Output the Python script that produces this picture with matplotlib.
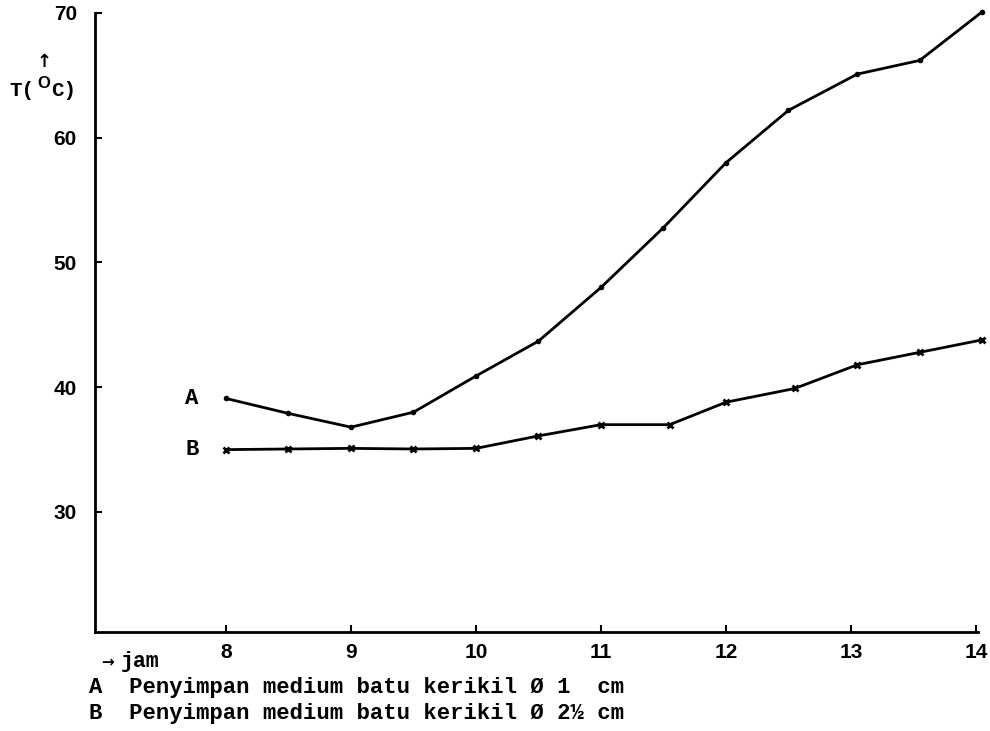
import matplotlib
matplotlib.use("Agg")
import matplotlib.pyplot as plt

# Data
hours_a = [8, 8.5, 9, 9.5, 10, 10.5, 11, 11.5, 12, 12.5, 13.05, 13.55, 14.05]
temp_a = [39.1, 37.9, 36.8, 38.0, 40.9, 43.7, 48.0, 52.8, 58.0, 62.2, 65.1, 66.2, 70.1]
hours_b = [8, 8.5, 9, 9.5, 10, 10.5, 11, 11.55, 12, 12.55, 13.05, 13.55, 14.05]
temp_b = [35.0, 35.05, 35.1, 35.05, 35.1, 36.1, 37.0, 37.0, 38.8, 39.9, 41.8, 42.8, 43.8]
x_ticks = [8, 9, 10, 11, 12, 13, 14]
y_ticks = [30, 40, 50, 60, 70]
series_labels = ["A", "B"]
legend_lines = [
    "A  Penyimpan medium batu kerikil \u00d8 1  cm",
    "B  Penyimpan medium batu kerikil \u00d8 2\u00bd cm",
]

W, H = 990, 731
fig = plt.figure(figsize=(W / 100, H / 100), dpi=100)
ax = fig.add_axes([95 / W, 1 - 632 / H, (978 - 95) / W, (632 - 13) / H])

mono = ["Liberation Mono", "DejaVu Sans Mono"]
sans = ["Liberation Sans", "DejaVu Sans"]

ax.plot(hours_a, temp_a, color="black", lw=2, marker="o", ms=3, clip_on=False)
ax.plot(hours_b, temp_b, color="black", lw=2, marker="x", ms=5, mew=2, clip_on=False)

ax.set_xlim(6.952, 14.016)
ax.set_ylim(20.38, 70.0)
for s in ["top", "right"]:
    ax.spines[s].set_visible(False)
for s in ["left", "bottom"]:
    ax.spines[s].set_linewidth(2)

ax.set_xticks(x_ticks)
ax.set_xticklabels([str(t) for t in x_ticks])
ax.set_yticks(y_ticks)
ax.set_yticklabels([str(t) for t in y_ticks])
ax.tick_params(axis="both", direction="in", length=5, width=1.5)
ax.tick_params(axis="y", pad=13)
ax.tick_params(axis="x", pad=8)
for lab in ax.get_xticklabels() + ax.get_yticklabels():
    lab.set_fontfamily(sans)
    lab.set_fontweight("bold")
    lab.set_fontsize(15)

# series labels A / B
ax.annotate(series_labels[0], xy=(hours_a[0], temp_a[0]), xytext=(-25, 0),
            textcoords="offset points", ha="center", va="center",
            fontfamily=mono, fontweight="bold", fontsize=16)
ax.annotate(series_labels[1], xy=(hours_b[0], temp_b[0]), xytext=(-24, 0),
            textcoords="offset points", ha="center", va="center",
            fontfamily=mono, fontweight="bold", fontsize=16)

def px(x, y):
    return x / W, 1 - y / H

# y axis label with arrow
fig.text(*px(44, 62), "\u2191", ha="center", va="center",
         fontfamily=["DejaVu Sans"], fontweight="bold", fontsize=13)
fig.text(*px(9, 90), "T(", ha="left", va="center",
         fontfamily=mono, fontweight="bold", fontsize=15)
fig.text(*px(37, 84), "O", ha="left", va="center",
         fontfamily=sans, fontweight="bold", fontsize=12)
fig.text(*px(51, 90), "C)", ha="left", va="center",
         fontfamily=mono, fontweight="bold", fontsize=15)

# x label and legend text
fig.text(*px(101, 662), "\u2192", ha="left", va="center",
         fontfamily=["DejaVu Sans"], fontweight="bold", fontsize=11)
fig.text(*px(121, 662), "jam", ha="left", va="center",
         fontfamily=mono, fontweight="bold", fontsize=15.5)
fig.text(*px(89, 687), legend_lines[0], ha="left", va="center",
         fontfamily=mono, fontweight="bold", fontsize=16)
fig.text(*px(89, 713), legend_lines[1], ha="left", va="center",
         fontfamily=mono, fontweight="bold", fontsize=16)

fig.savefig("out.png", dpi=100, facecolor="white")
